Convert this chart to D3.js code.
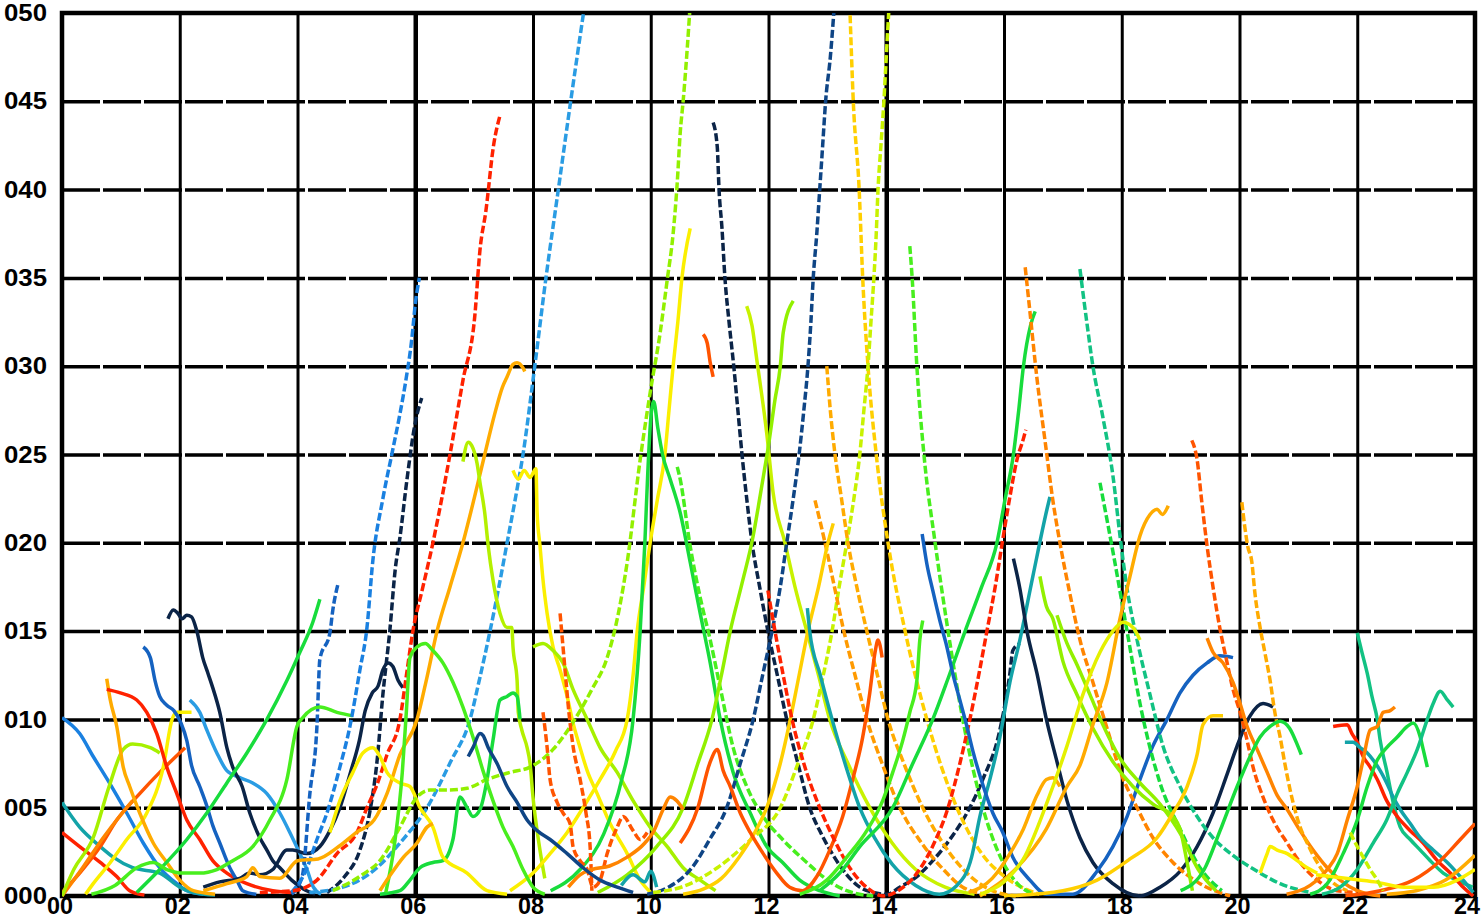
<!DOCTYPE html>
<html>
<head>
<meta charset="utf-8">
<script src="https://cdn.jsdelivr.net/npm/d3@7"></script>
<style>
html, body { margin: 0; padding: 0; background: #fff; }
svg { display: block; }
</style>
</head>
<body>
<div id="viz"></div>
<script>
(function() {

// axis ticks
var xTicks = [0, 2, 4, 6, 8, 10, 12, 14, 16, 18, 20, 22, 24];
var xTickLabels = ["00", "02", "04", "06", "08", "10", "12", "14", "16", "18", "20", "22", "24"];
var yTicks = [0, 5, 10, 15, 20, 25, 30, 35, 40, 45, 50];
var yTickLabels = ["000", "005", "010", "015", "020", "025", "030", "035", "040", "045", "050"];

// traces, [hour, value]
var blueA = [[0,10.1],[0.3,9.2],[0.53,7.9],[0.77,6.6],[1.1,4.7],[1.38,3],[1.66,1.6],[1.95,0.7],[2.12,0.3],[2.4,0.1]];
var tealA = [[0,5.3],[0.3,3.9],[0.65,2.8],[0.87,2.2],[1.2,1.6],[1.66,1.3],[2,0.5],[2.23,0.2],[2.6,0.05]];
var redA = [[0,3.6],[0.3,2.8],[0.65,1.9],[0.93,1.1],[1.15,0.3],[1.4,0.05]];
var oredA = [[0,0.2],[0.3,1.3],[0.65,2.8],[0.93,4.3],[1.32,5.8],[1.66,7],[2.09,8.4]];
var orangeA = [[0,0],[0.35,1.6],[0.7,3.3],[1.0,4.6],[1.2,5.4]];
var chartA = [[0,0],[0.2,1.5],[0.53,3.3],[0.8,6.2],[1.04,8.3],[1.2,8.6],[1.5,8.4],[1.66,8.1]];
var yellowA = [[0.4,0.1],[0.53,0.7],[0.82,1.9],[1.1,3.2],[1.44,4.7],[1.72,7.3],[1.87,10],[1.95,10.4],[2.1,10.4],[2.2,10.4]];
var amberA = [[0.76,12.3],[0.82,11.1],[0.93,9.6],[1.04,7.3],[1.15,6.2],[1.32,4.7],[1.55,3],[1.78,1.9],[2,0.9],[2.23,0.3],[2.6,0.1]];
var redB = [[0.76,11.7],[0.99,11.5],[1.27,11.1],[1.44,10.4],[1.61,9.2],[1.78,7.3],[1.95,5.8],[2.12,4.3],[2.34,3.2],[2.56,2],[2.8,1.3],[3.14,0.7],[3.58,0.3],[3.92,0.2]];
var blueB = [[1.38,14.1],[1.5,13.5],[1.58,12.2],[1.66,11.3],[1.78,10.8],[1.9,10.5],[2.02,9.8],[2.12,8.8],[2.2,7.4],[2.34,6.2],[2.46,5.1],[2.56,4],[2.68,3],[2.85,1.6],[2.97,0.9],[3.07,0.3],[3.3,0.1]];
var lblueA = [[2.17,11.1],[2.34,10.4],[2.46,9.4],[2.63,8.1],[2.8,7.1],[3.02,6.7],[3.24,6.4],[3.48,5.8],[3.7,4.7],[3.87,3.6],[4.04,2.4],[4.16,1.5],[4.27,0.5],[4.4,0.1]];
var navyA = [[1.8,15.7],[1.89,16.2],[1.97,16],[2.04,15.7],[2.12,15.9],[2.2,15.8],[2.29,15],[2.39,13.5],[2.48,12.6],[2.56,11.8],[2.68,10.4],[2.8,8.4],[2.9,7.3],[3.06,6.2],[3.19,4.7],[3.36,3.3],[3.48,2.6],[3.58,2],[3.7,1.6],[3.9,0.9],[4.1,0.4],[4.3,0.1]];
var navyB = [[2.4,0.5],[2.68,0.8],[3.02,1],[3.19,1.3],[3.36,1.2],[3.58,1.5],[3.82,2.6],[3.92,2.6],[4.16,2.4],[4.38,2.8],[4.55,3.7],[4.72,5],[4.9,7],[5.05,8.8],[5.15,10.5],[5.27,11.5],[5.37,11.9],[5.45,12.8],[5.54,13.2],[5.62,13],[5.71,12.2],[5.79,11.8]];
var navyC = [[4.5,0.2],[4.8,1.1],[5.06,2.6],[5.23,4.8],[5.35,7.6],[5.45,11.4],[5.57,15.1],[5.66,18.5],[5.74,20.3],[5.86,23.6],[6,26.8],[6.11,28.2]];
var blueC = [[3.9,0.1],[4.08,1.1],[4.21,5.8],[4.33,9.6],[4.38,13.4],[4.55,14.9],[4.6,16.2],[4.69,17.7]];
var greenA = [[1.27,0.2],[1.66,1.5],[2.12,3.2],[2.46,4.7],[2.8,6.4],[3.14,8.1],[3.48,10],[3.82,12.2],[4.04,13.8],[4.26,15.5],[4.38,16.8]];
var green2A = [[0.5,0.1],[0.9,0.6],[1.27,1.6],[1.55,1.9],[1.78,1.5],[2.06,1.3],[2.34,1.3],[2.63,1.5],[2.9,2],[3.24,2.8],[3.53,4.3],[3.82,6.6],[3.99,9.6],[4.09,10.1],[4.38,10.7],[4.67,10.4],[4.94,10.2]];
var blueD = [[3.9,0.2],[4.15,1.5],[4.33,3.2],[4.5,4.7],[4.72,7.3],[4.89,9.6],[5.06,12.8],[5.18,15.2],[5.28,19],[5.45,22.5],[5.62,25.3],[5.74,27.3],[5.85,29.4],[5.94,31.5],[6.0,33.5],[6.07,35]];
var lblueB = [[4.2,0.2],[4.77,0.5],[5.35,1.6],[5.74,3],[6.2,5],[6.6,7.6],[6.93,10],[7.1,12.4],[7.27,15],[7.42,17.5],[7.56,20],[7.7,22.5],[7.83,25],[8.03,30],[8.22,35],[8.43,40],[8.64,45],[8.88,50.5]];
var redC = [[3.36,0.2],[3.92,0.3],[4.33,0.9],[4.67,2.4],[5.01,3.6],[5.18,5],[5.35,6.3],[5.52,8],[5.74,10],[5.85,12.5],[5.96,15],[6.13,17.5],[6.3,20],[6.45,22.5],[6.59,25],[6.81,29.2],[7.01,32.8],[7.1,36.6],[7.2,38.8],[7.33,42.5],[7.44,44.2]];
var amberLong = [[2.4,0.3],[2.8,0.7],[3.14,1.1],[3.24,1.6],[3.36,1.1],[3.7,1.0],[4.0,2.0],[4.35,2.1],[4.7,2.8],[5,3.6],[5.3,4.3],[5.52,5.8],[5.74,8],[6.03,10],[6.2,12.4],[6.37,15],[6.59,17.5],[6.81,20],[7.0,22.5],[7.18,25],[7.35,27.3],[7.48,28.8],[7.56,29.4],[7.66,30.1],[7.73,30.2],[7.83,29.9],[7.86,29.7]];
var chartB = [[6.81,24.6],[6.9,25.7],[6.96,25.5],[7.05,24.5],[7.1,23.4],[7.18,21.7],[7.24,19.8],[7.32,17.9],[7.44,16],[7.56,15.2],[7.64,15.2],[7.66,14.1],[7.73,12.2],[7.75,10.4],[7.81,9.4],[7.9,8.4],[7.95,7.5],[8,5.6],[8.1,3],[8.2,1]];
var greenB = [[5.4,0.1],[5.74,0.3],[5.91,0.9],[6.08,1.6],[6.3,1.9],[6.47,2],[6.64,3.2],[6.76,5.6],[6.88,5],[6.98,4.5],[7.1,4.9],[7.22,6.6],[7.32,8.8],[7.44,11.1],[7.56,11.3],[7.66,11.5],[7.73,11.3],[7.78,10]];
var yellowB = [[7.66,24.1],[7.75,23.6],[7.85,24.1],[7.95,23.7],[8.05,24.2],[8.07,21.7],[8.12,19.8],[8.17,17.9],[8.24,16],[8.34,14.1],[8.46,12.8],[8.58,11.3],[8.68,9.8],[8.8,8.4],[8.92,7.1],[9.09,5.8],[9.31,4.1],[9.6,2.4],[9.82,0.9],[10,0.2]];
var chartC = [[8,14.1],[8.17,14.3],[8.34,13.9],[8.51,13.2],[8.68,11.7],[8.92,10],[9.14,8.4],[9.43,7],[9.7,5.4],[9.99,3.9],[10.28,2.8],[10.55,1.6],[10.84,0.9],[11.1,0.3]];
var yellowC = [[4.55,3.6],[4.72,5.4],[4.94,7],[5.11,8.1],[5.28,8.4],[5.4,7.9],[5.52,7],[5.74,6.4],[5.91,6.2],[6.08,5],[6.3,3.9],[6.47,2.2],[6.88,1.3],[7.22,0.3],[7.56,0.1]];
var yellowD = [[7.61,0.3],[8,1.3],[8.29,2.4],[8.58,3.6],[8.85,5],[9.14,6.6],[9.4,8.2],[9.6,10],[9.7,12.5],[9.77,15],[9.88,17.5],[9.99,20],[10.11,22.4],[10.24,25],[10.31,27.5],[10.38,30],[10.46,32.5],[10.53,35],[10.67,37.8]];
var chartD = [[4.6,0.3],[5.1,1.2],[5.4,2],[5.74,3.9],[6.03,5.6],[6.25,6],[6.54,6],[6.88,6.1],[7.22,6.6],[7.61,7],[7.95,7.3],[8.34,8.3],[8.71,10],[9.0,11.7],[9.26,13.5],[9.45,16],[9.6,18.9],[9.82,24.7],[9.99,28.5],[10.16,31.9],[10.28,34.9],[10.38,37.5],[10.45,40.4],[10.5,43.2],[10.55,45],[10.62,48],[10.67,50.5]];
var greenPk10 = [[8.3,0.3],[8.8,1.5],[9.2,3.5],[9.5,6.5],[9.7,10],[9.82,15],[9.9,20],[9.95,24],[10.0,27],[10.05,28],[10.12,26.5],[10.2,25],[10.33,23.6],[10.5,21.7],[10.67,18.9],[10.84,16],[11.01,13.2],[11.18,10],[11.4,7],[11.69,4.7],[11.97,2.8],[12.24,1.9],[12.53,0.9],[12.87,0.3],[13.21,0]];
var green2Pk10 = [[10.45,24.3],[10.5,23.6],[10.67,19.8],[10.84,16.9],[11.01,14.5],[11.18,11.8],[11.4,8.4],[11.63,6.2],[11.91,4.5],[12.24,3.2],[12.65,1.9],[13,0.9],[13.33,0.3],[13.78,0]];
var navyLong = [[11.06,43.8],[11.13,42.4],[11.16,40],[11.21,37.8],[11.26,35],[11.33,32.5],[11.41,30],[11.48,27.5],[11.55,25],[11.63,22.5],[11.72,20],[11.85,17.5],[11.99,15],[12.15,12.5],[12.31,10],[12.5,7.5],[12.7,5],[12.9,3.5],[13.1,2.3],[13.33,1.2],[13.55,0.5],[13.78,0.2],[14.01,0.1],[14.23,0.5],[14.52,1.1],[14.79,2],[15.08,3.2],[15.37,4.7],[15.64,6.6],[15.93,9.4],[16.1,12.6],[16.15,13.9],[16.27,14.3]];
var redShort = [[10.89,31.8],[10.96,31.3],[11.01,30.2],[11.06,29.4]];
var limeA = [[11.63,33.4],[11.72,32.3],[11.8,30.4],[11.97,26.2],[12.08,22.8],[12.28,20],[12.45,17.5],[12.65,15],[12.85,12.5],[13.04,10],[13.35,7.5],[13.72,5],[14.1,3],[14.5,1.5],[15,0.5],[15.5,0.1]];
var chartE = [[9.1,0.2],[9.6,1.2],[10.1,2.8],[10.55,5],[10.8,7.5],[11.04,10],[11.2,12.5],[11.35,15],[11.55,17.7],[11.74,20.4],[11.85,22.5],[11.94,24.3],[11.99,25.3],[12.11,28.1],[12.2,30],[12.25,31.9],[12.42,33.7]];
var blueLong = [[9.94,0.1],[10.3,0.5],[10.7,1.6],[11.0,3.2],[11.29,5],[11.52,7.5],[11.74,10],[11.9,12.5],[12.06,15],[12.2,17.5],[12.31,20],[12.42,22.5],[12.52,25],[12.6,27.5],[12.67,30],[12.72,32.5],[12.76,35],[12.82,37.5],[12.87,40],[12.92,42.5],[12.97,45],[13.05,47.5],[13.12,50.5]];
var goldDash = [[13.38,50.5],[13.44,45],[13.54,40],[13.6,35],[13.69,30],[13.83,25],[14.03,20],[14.32,15],[14.69,10],[15.2,5],[15.6,2.5],[16.05,1],[16.6,0.1]];
var limeDash = [[10.04,0.2],[10.6,0.6],[11.13,1.6],[11.7,3.2],[12.2,5],[12.5,7.5],[12.76,10],[12.93,12.5],[13.08,15],[13.2,17.5],[13.33,20],[13.45,22.5],[13.55,25],[13.62,27.5],[13.69,30],[13.74,32.5],[13.79,35],[13.83,37.5],[13.86,40],[13.91,42.5],[13.96,45],[14.0,47.5],[14.05,50.5]];
var greenDash = [[14.4,36.8],[14.44,35],[14.52,30],[14.64,25],[14.83,20],[15.05,15],[15.3,10],[15.64,5],[15.9,2.5],[16.2,0.8],[16.5,0.1]];
var amberDash = [[12.99,30],[13.05,27.5],[13.13,25],[13.24,22.5],[13.35,20],[13.5,17.5],[13.67,15],[13.85,12.5],[14.03,10],[14.3,7.5],[14.62,5],[15.0,2.8],[15.4,1.2],[15.8,0.3],[16.2,0]];
var orangeD22 = [[12.79,22.4],[12.87,21.3],[12.96,20],[13.12,17.5],[13.28,15],[13.47,12.5],[13.67,10],[13.93,7.5],[14.23,5],[14.6,3],[14.97,1.5],[15.3,0.5],[15.7,0.1]];
var goldRise21 = [[10.55,0.1],[10.9,0.4],[11.2,1],[11.5,2.2],[11.75,3.5],[11.97,5],[12.2,7.5],[12.37,10],[12.52,12.5],[12.67,15],[12.85,17.5],[13.01,20],[13.1,21.1]];
var oredHook = [[10.5,3],[10.8,5],[11.0,7.5],[11.13,8.3],[11.23,7.1],[11.35,6.2],[11.52,4.7],[11.69,3.6],[11.91,2.4],[12.14,1.3],[12.36,0.5],[12.58,0.3],[12.82,1.1],[13.04,2.6],[13.26,4.5],[13.43,6.6],[13.6,9],[13.72,11.5],[13.81,13.8],[13.86,14.5],[13.93,13.5]];
var tealVW = [[12.66,16.3],[12.7,15],[12.88,12.5],[13.08,10],[13.3,7.5],[13.55,5],[13.8,3.3],[14.1,1.8],[14.5,0.6],[14.9,0.1],[15.2,0.6],[15.45,2.2],[15.59,4.5],[15.76,6.6],[15.93,9],[16.1,12.1],[16.27,14.5],[16.49,18.1],[16.73,21.9],[16.78,22.6]];
var redVW = [[11.99,17.3],[12.11,15],[12.25,12.5],[12.4,10],[12.6,7.5],[12.87,5],[13.1,3.3],[13.4,1.5],[13.7,0.4],[13.95,0],[14.2,0.3],[14.5,1.2],[14.8,2.9],[15.05,5],[15.25,7.5],[15.42,10],[15.57,12.5],[15.71,15],[15.85,17.5],[15.97,20],[16.1,22.6],[16.22,24.7],[16.33,25.9],[16.37,26.4]];
var greenRise33 = [[12.87,0.3],[13.21,1.3],[13.55,2.8],[14.11,5],[14.45,7.5],[14.79,10],[15.07,12.5],[15.34,15],[15.62,17.5],[15.88,20],[16.02,22.5],[16.16,25],[16.25,27.5],[16.33,30],[16.45,32.3],[16.53,33.1]];
var greenRise15 = [[12.53,0.1],[12.99,0.9],[13.33,2.2],[13.67,3.7],[13.94,5.4],[14.11,7],[14.28,8.8],[14.4,10.4],[14.52,12.2],[14.57,14.5],[14.62,15.6]];
var navyDesc19 = [[16.16,19.1],[16.27,17.4],[16.39,15],[16.56,12.6],[16.72,10],[16.9,7.6],[17.07,5.4],[17.29,3.3],[17.51,1.9],[17.85,0.7],[18.31,0],[18.65,0.5],[18.99,1.4],[19.28,2.8],[19.55,4.7],[19.79,6.9],[19.96,8.5],[20.18,10.2],[20.4,10.9],[20.57,10.7]];
var blueArc = [[14.61,20.5],[14.69,18.8],[14.79,17.3],[14.91,15.6],[15.03,14.1],[15.13,12.6],[15.25,11.1],[15.37,9.6],[15.48,8.1],[15.65,6.2],[15.81,4.7],[15.98,3.6],[16.15,2.2],[16.44,0.9],[16.72,0.1],[17.17,0.1],[17.58,1.4],[17.85,2.8],[18.09,4.5],[18.31,6.6],[18.53,8.5],[18.77,10],[18.99,11.5],[19.21,12.5],[19.45,13.2],[19.67,13.6],[19.89,13.5]];
var orangeDash35 = [[16.36,35.6],[16.44,33.1],[16.56,29.3],[16.7,25.7],[16.83,22.4],[16.95,20],[17.12,17.1],[17.29,14.5],[17.51,12.1],[17.75,9.5],[17.97,7.1],[18.26,5],[18.53,3.3],[18.87,1.9],[19.33,0.7],[19.84,0]];
var tgreen35 = [[17.29,35.5],[17.41,32.4],[17.51,30],[17.68,27.1],[17.85,23.8],[17.97,20.4],[18.09,17.4],[18.26,14.5],[18.48,11.4],[18.7,8.5],[18.99,6.2],[19.28,4.5],[19.55,3.3],[19.89,2.3],[20.3,1.4],[20.69,0.7],[21.2,0.2]];
var greenDesc23 = [[17.63,23.4],[17.85,19.5],[18.09,15],[18.31,10.9],[18.65,6.4],[18.99,3.8],[19.33,1.6],[19.7,0.3]];
var chartF = [[16.61,18.1],[16.72,16.4],[16.83,15.7],[17,13.3],[17.24,11.4],[17.51,9.5],[17.85,7.6],[18.19,6.2],[18.53,5.2],[18.87,4.5],[18.99,3.8],[19.11,1.9],[19.2,0.3]];
var chartG = [[16.9,15.9],[17.07,14.3],[17.24,13.1],[17.46,11.4],[17.68,9.7],[17.97,7.8],[18.31,6.4],[18.65,5.2],[19.0,3.5],[19.3,1.5],[19.6,0.3]];
var amberRise22 = [[15.59,0],[16.16,1.4],[16.72,3.8],[17.07,6.2],[17.29,7.4],[17.51,9.7],[17.75,12.1],[17.97,15.7],[18.14,18.1],[18.31,20.4],[18.48,21.6],[18.6,21.9],[18.69,21.6],[18.79,22.1]];
var amberHump7 = [[15.4,0.2],[15.8,1],[16.1,2.4],[16.33,3.8],[16.56,5.7],[16.72,6.6],[16.83,6.7],[16.95,6.2]];
var yellowHump15 = [[15.6,0.1],[16,0.8],[16.33,2.1],[16.72,5.2],[17.07,8.5],[17.34,11.4],[17.63,13.8],[17.85,15],[18.02,15.5],[18.19,15.2],[18.31,14.5]];
var goldRise10 = [[16,0],[17,0.3],[17.58,0.9],[18.14,2.1],[18.6,3.3],[18.87,4.7],[19.11,6.2],[19.28,8],[19.38,9.7],[19.55,10.2],[19.72,10.2]];
var oredDash26 = [[19.19,25.8],[19.28,24.7],[19.36,22.3],[19.45,19.8],[19.55,17.5],[19.67,15.1],[19.79,13.2],[19.89,11.7],[20.01,10.4],[20.13,8.8],[20.23,7.3],[20.4,5.6],[20.57,4.3],[20.81,3],[21.03,1.9],[21.32,0.9],[21.66,0.3],[22,0.2]];
var orangeDesc14 = [[19.45,14.6],[19.55,13.8],[19.72,13.2],[19.89,12.1],[20.01,10.9],[20.13,9.6],[20.3,8.3],[20.47,7],[20.64,5.7],[20.81,4.9],[21.03,3.7],[21.25,2.6],[21.49,1.6],[21.71,0.9],[22,0.3],[22.39,0]];
var amberDash22 = [[20.04,22.3],[20.09,20.9],[20.14,19.8],[20.21,18.9],[20.26,17.2],[20.35,15.2],[20.43,13.8],[20.52,12.2],[20.6,10.4],[20.69,9],[20.77,7.5],[20.86,6],[20.94,4.9],[21.03,3.9],[21.15,3],[21.32,1.9],[21.54,0.9],[21.83,0.3]];
var greenPk21 = [[19.0,0.3],[19.4,1.5],[19.67,3.7],[19.96,6.2],[20.18,7.9],[20.35,9],[20.52,9.6],[20.69,9.9],[20.85,9.5],[20.99,8.5],[21.05,8.0]];
var tgreen15 = [[22,14.9],[22.08,13.8],[22.17,12.6],[22.25,11.3],[22.34,10],[22.39,8.8],[22.5,7.1],[22.61,5.3],[22.73,3.9],[22.9,3.2],[23.07,2.6],[23.24,2],[23.46,1.3],[23.69,0.9],[23.96,0.5]];
var redDesc22 = [[21.59,9.6],[21.83,9.7],[21.91,9.2],[22,8.7],[22.1,7.9],[22.22,7.3],[22.34,6.6],[22.5,5.4],[22.68,4.5],[22.9,3.7],[23.12,3],[23.36,2],[23.58,1.3],[23.8,0.5],[23.97,0]];
var tealDesc22 = [[21.79,8.7],[21.93,8.7],[22.05,8.4],[22.17,8.1],[22.27,7.7],[22.39,7.1],[22.5,6.4],[22.61,5.6],[22.73,4.9],[22.9,4.1],[23.07,3.3],[23.29,2.6],[23.53,1.9],[23.75,1.1],[23.97,0.2]];
var orangeRise11 = [[20.8,0.1],[21.2,0.6],[21.49,1.5],[21.66,2.4],[21.83,4.3],[22,6.2],[22.1,7.7],[22.22,9.4],[22.34,9.6],[22.44,10.4],[22.56,10.5],[22.64,10.7]];
var greenPk23 = [[21.2,0.1],[21.49,0.7],[21.76,2.4],[22,4.3],[22.17,6.2],[22.34,7.7],[22.5,8.4],[22.68,9],[22.85,9.6],[22.95,9.8],[23.07,9],[23.12,8.3],[23.19,7.3]];
var tgreenPk23 = [[21.4,0.1],[21.71,0.5],[22,1.5],[22.27,3],[22.5,4.3],[22.68,5.8],[22.85,7],[23.02,8.3],[23.19,10],[23.29,10.9],[23.41,11.6],[23.53,11.1],[23.63,10.7]];
var oredEdge = [[21.8,0],[22.39,0.3],[22.95,0.9],[23.41,2],[23.75,3.2],[24,4.1]];
var amberEdge = [[22.5,0.1],[23.0,0.3],[23.5,0.9],[24,2.3]];
var yellowEdge = [[21.3,1.2],[21.8,1],[22.3,0.8],[22.8,0.5],[23.3,0.5],[23.7,0.9],[24,1.5]];
var yellowHump21 = [[20.35,1.3],[20.47,2.4],[20.52,2.8],[20.64,2.6],[20.81,2.4],[20.98,2],[21.15,1.6],[21.32,1.3]];
var limeDash22 = [[21.88,3.6],[22,2.8],[22.1,2.2],[22.22,1.5],[22.34,0.9],[22.44,0.3]];
var green6 = [[5.5,0.2],[5.65,3],[5.78,7],[5.85,10.5],[5.91,13.5],[6.03,14.1],[6.17,14.3],[6.3,13.9],[6.47,13.2],[6.64,12.1],[6.81,10.7],[6.98,9],[7.15,7.1],[7.32,5.4],[7.49,3.9],[7.66,2.8],[7.83,1.5],[8,0.5],[8.2,0.1]];
var ored16 = [[8.46,16],[8.51,14.1],[8.56,12.2],[8.61,10.4],[8.68,8.5],[8.8,6.6],[8.9,4.7],[8.97,2.8],[9.0,0.3]];
var oredDash10 = [[8.17,10.4],[8.24,8.4],[8.29,6.6],[8.41,5.3],[8.51,4.7],[8.63,4.1],[8.68,2.8],[8.8,2],[8.92,1.5],[9.02,0.5],[9.14,0.9],[9.26,2.4],[9.43,3.9],[9.53,4.5],[9.7,3.7],[9.82,3.2],[9.94,3.6]];
var orangeBump10 = [[8.6,0.5],[8.8,1.2],[9,1.5],[9.3,1.7],[9.6,2.2],[9.9,3],[10.04,3.6],[10.21,4.9],[10.33,5.6],[10.44,5.4],[10.55,4.9]];
var navyHump7 = [[6.9,7.9],[6.98,8.4],[7.1,9.2],[7.15,9.1],[7.24,8.4],[7.39,7.5],[7.56,6.2],[7.73,5.3],[7.9,4.3],[8.07,3.7],[8.29,3.2],[8.58,2.4],[8.85,1.6],[9.14,0.9],[9.43,0.5],[9.7,0.2]];
var amberShort6 = [[5.4,0.3],[5.6,1.3],[5.8,2.2],[6.03,3],[6.2,3.9],[6.3,4.1]];
var tealSquiggle = [[9.5,0.6],[9.7,1.2],[9.9,0.8],[10,1.4],[10.1,0.5]];

var C = {
    navy: "#0b2447", navy2: "#0f4585", blue: "#1562c0", blue2: "#1a80e0", lblue: "#2a9ce3",
    teal: "#13a3a8", tgreen: "#12c283", green: "#18dc3c", green2: "#48ee1e", chart: "#92f000",
    lime: "#c8f200", yellow: "#fbef00", gold: "#ffcf00", amber: "#ffab00", orange: "#ff8400",
    ored: "#ff5400", red: "#ff2200"
};

// [points, colour, dashed]
var series = [
    [blueA, C.blue2, 0], [tealA, C.teal, 0], [redA, C.red, 0], [oredA, C.ored, 0], [orangeA, C.orange, 0],
    [chartA, "#a6f000", 0], [yellowA, C.yellow, 0], [amberA, C.amber, 0], [redB, C.red, 0], [blueB, C.blue, 0],
    [lblueA, C.lblue, 0], [navyA, C.navy, 0], [navyB, C.navy, 0], [navyC, C.navy, 1], [blueC, C.blue, 1],
    [greenA, C.green, 0], [green2A, C.green2, 0], [blueD, C.blue2, 1], [lblueB, C.lblue, 1], [redC, C.red, 1],
    [amberLong, C.amber, 0], [chartB, "#b4f000", 0], [greenB, C.green, 0], [yellowB, C.yellow, 0], [chartC, "#a6f000", 0],
    [yellowC, C.yellow, 0], [yellowD, C.yellow, 0], [chartD, C.chart, 1], [greenPk10, C.green, 0], [green2Pk10, C.green2, 1],
    [navyLong, C.navy, 1], [redShort, C.ored, 0], [limeA, C.lime, 0], [chartE, C.chart, 0], [blueLong, C.navy2, 1],
    [goldDash, C.gold, 1], [limeDash, C.lime, 1], [greenDash, C.green2, 1], [amberDash, C.amber, 1], [orangeD22, "#ff9a00", 1],
    [goldRise21, C.gold, 0], [oredHook, C.ored, 0], [tealVW, C.teal, 0], [redVW, C.red, 1], [greenRise33, C.green, 0],
    [greenRise15, C.green2, 0], [navyDesc19, C.navy, 0], [blueArc, C.blue, 0], [orangeDash35, C.orange, 1], [tgreen35, C.tgreen, 1],
    [greenDesc23, C.green, 1], [chartF, C.chart, 0], [chartG, C.chart, 0], [amberRise22, C.amber, 0], [amberHump7, C.amber, 0],
    [yellowHump15, "#e4f000", 0], [goldRise10, C.gold, 0], [oredDash26, C.ored, 1], [orangeDesc14, C.orange, 0], [amberDash22, C.amber, 1],
    [greenPk21, C.green, 0], [tgreen15, C.tgreen, 0], [redDesc22, C.red, 0], [tealDesc22, C.teal, 0], [orangeRise11, C.orange, 0],
    [greenPk23, C.green, 0], [tgreenPk23, C.tgreen, 0], [oredEdge, C.ored, 0], [amberEdge, C.amber, 0], [yellowEdge, C.yellow, 0],
    [yellowHump21, C.yellow, 0], [limeDash22, C.lime, 1], [green6, C.green2, 0], [ored16, C.ored, 1], [oredDash10, C.ored, 1],
    [orangeBump10, C.orange, 0], [navyHump7, C.navy2, 0], [amberShort6, C.amber, 0], [tealSquiggle, C.teal, 0]
];

var W = 1483, H = 922;
var x = d3.scaleLinear().domain([0, 24]).range([62, 1475]);
var y = d3.scaleLinear().domain([0, 50]).range([896, 13]);

var svg = d3.select("#viz").append("svg")
    .attr("width", W)
    .attr("height", H)
    .style("font-family", "'Liberation Sans', Arial, sans-serif");

svg.append("defs").append("clipPath").attr("id", "plot")
    .append("rect")
    .attr("x", 62).attr("y", 13)
    .attr("width", 1475 - 62).attr("height", 899 - 13);

// horizontal grid (dashed)
svg.append("g")
    .attr("transform", "translate(62,0)")
    .call(d3.axisLeft(y).tickValues(yTicks.slice(1, -1)).tickSize(-(1475 - 62)).tickFormat(""))
    .call(function(g) { g.select(".domain").remove(); })
    .selectAll("line")
    .attr("stroke", "#000")
    .attr("stroke-width", 3.5)
    .attr("stroke-dasharray", "38,3");

// vertical grid
svg.append("g")
    .attr("transform", "translate(0,896)")
    .call(d3.axisBottom(x).tickValues(xTicks.slice(1, -1)).tickSize(-(896 - 13)).tickFormat(""))
    .call(function(g) { g.select(".domain").remove(); })
    .selectAll("line")
    .attr("stroke", "#000")
    .attr("stroke-width", function(d) { return (d === 6 || d === 14) ? 4.5 : 3; });

// frame
svg.append("rect")
    .attr("x", 62).attr("y", 13)
    .attr("width", 1475 - 62).attr("height", 896 - 13)
    .attr("fill", "none")
    .attr("stroke", "#000")
    .attr("stroke-width", 4.5);

var line = d3.line()
    .x(function(d) { return x(d[0]); })
    .y(function(d) { return y(d[1]); })
    .curve(d3.curveMonotoneX);

svg.append("g")
    .attr("clip-path", "url(#plot)")
    .selectAll("path")
    .data(series)
    .enter().append("path")
    .attr("d", function(d) { return line(d[0]); })
    .attr("fill", "none")
    .attr("stroke", function(d) { return d[1]; })
    .attr("stroke-width", 3.5)
    .attr("stroke-linejoin", "round")
    .attr("stroke-dasharray", function(d) { return d[2] ? "8,3" : null; });

// y labels
svg.append("g")
    .attr("transform", "translate(62,0)")
    .call(d3.axisLeft(y).tickValues(yTicks).tickSize(0).tickPadding(15)
        .tickFormat(function(d, i) { return yTickLabels[i]; }))
    .call(function(g) { g.select(".domain").remove(); })
    .selectAll("text")
    .attr("fill", "#000")
    .style("font-size", "24px")
    .style("font-weight", "bold")
    .attr("textLength", 43)
    .attr("lengthAdjust", "spacingAndGlyphs");

// x labels
svg.append("g")
    .attr("transform", "translate(-2.5,896)")
    .call(d3.axisBottom(x).tickValues(xTicks).tickSize(0).tickPadding(2)
        .tickFormat(function(d, i) { return xTickLabels[i]; }))
    .call(function(g) { g.select(".domain").remove(); })
    .selectAll("text")
    .attr("fill", "#000")
    .attr("dy", "0.66em")
    .attr("x", function(d) { return d === 24 ? -6 : 0; })
    .style("font-size", "24px")
    .style("font-weight", "bold")
    .attr("textLength", 26)
    .attr("lengthAdjust", "spacingAndGlyphs");

})();
</script>
</body>
</html>
